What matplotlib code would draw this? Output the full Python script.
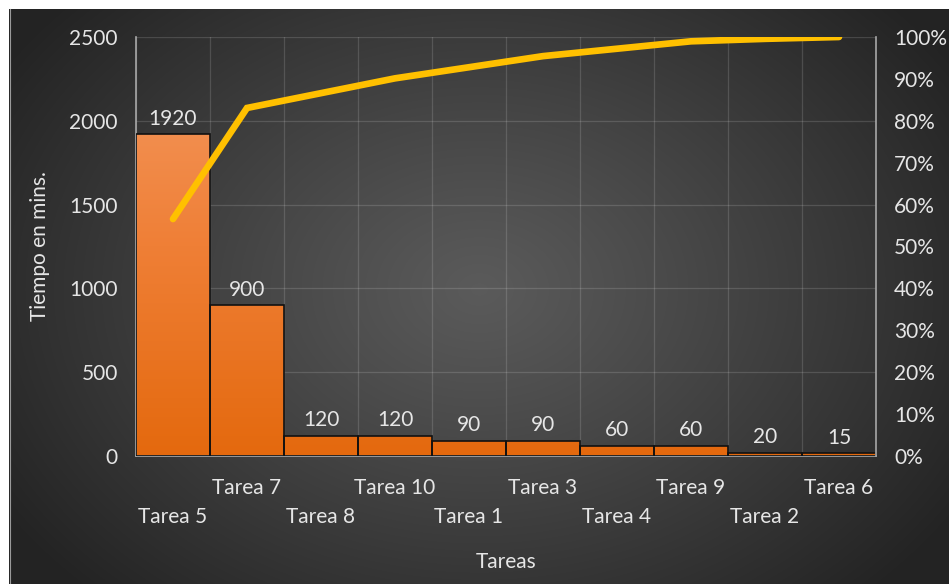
import numpy as np
import matplotlib
matplotlib.use("Agg")
from matplotlib import pyplot as plt
from matplotlib.colors import LinearSegmentedColormap

tareas = ["Tarea 5", "Tarea 7", "Tarea 8", "Tarea 10", "Tarea 1",
          "Tarea 3", "Tarea 4", "Tarea 9", "Tarea 2", "Tarea 6"]
tiempos = [1920, 900, 120, 120, 90, 90, 60, 60, 20, 15]
y_ticks = [0, 500, 1000, 1500, 2000, 2500]
pct_ticks = [0, 10, 20, 30, 40, 50, 60, 70, 80, 90, 100]

TEXT = "#e6e6e6"
plt.rcParams["font.family"] = ["Lato", "DejaVu Sans"]

W, H = 949, 584
fig = plt.figure(figsize=(W / 100, H / 100), dpi=100, facecolor="white")

# radial grey background of the chart area
bg = fig.add_axes([9 / W, 0, 1 - 9 / W, 1 - 9 / H])
bg.set_axis_off()
yy, xx = np.mgrid[0:H - 9, 0:W - 9]
r = np.hypot((xx - 470) / 560.0, (yy - 280) / 420.0)
shade = 0.355 - 0.215 * np.clip(r, 0, 1) ** 1.1
bg.imshow(np.dstack([shade] * 3), aspect="auto", interpolation="bilinear")
fig.add_artist(plt.Line2D([9.5 / W, 9.5 / W], [0, 1 - 9 / H], color="#9a9a9a",
                          linewidth=0.8))

x0, x1, yb, yt = 136, 876, 456, 37
ax = fig.add_axes([x0 / W, (H - yb) / H, (x1 - x0) / W, (yb - yt) / H])
ax.patch.set_alpha(0)

x = np.arange(len(tareas))
bars = ax.bar(x, tiempos, width=1.0, color="none", edgecolor="#111111",
              linewidth=1.2, zorder=3)

# orange gradient fill clipped to each bar
orange = LinearSegmentedColormap.from_list("naranja", ["#e4690e", "#ef7f36", "#f49a62"])
grad = np.linspace(0, 1, 256).reshape(-1, 1)
for b in bars:
    im = ax.imshow(grad, cmap=orange, origin="lower", aspect="auto",
                   extent=[-0.5, len(tareas) - 0.5, 0, 2500], zorder=2)
    im.set_clip_path(b)

ax.set_xlim(-0.5, len(tareas) - 0.5)
ax.set_ylim(0, 2500)
ax.set_yticks(y_ticks)
ax.set_xticks(x - 0.5, minor=False)
ax.set_xticklabels([])
ax.tick_params(axis="both", length=0, labelsize=15, colors=TEXT)
ax.tick_params(axis="y", pad=13)
ax.grid(True, color="white", alpha=0.14, linewidth=0.9, zorder=0)
ax.set_axisbelow(True)
for side in ("top", "right"):
    ax.spines[side].set_visible(False)
for side in ("left", "bottom"):
    ax.spines[side].set_color("#a8a8a8")
    ax.spines[side].set_linewidth(1.2)

for i, v in enumerate(tiempos):
    ax.annotate(str(v), (i, v), xytext=(0, 4), textcoords="offset points",
                ha="center", va="bottom", fontsize=15, color=TEXT, zorder=4)

# staggered category labels
for i, t in enumerate(tareas):
    ypos = -0.076 if i % 2 else -0.146
    ax.text(i, ypos, t, transform=ax.get_xaxis_transform(), ha="center",
            va="center", fontsize=15, color=TEXT)

ax.text(0.5, -0.253, "Tareas", transform=ax.transAxes, ha="center",
        va="center", fontsize=15, color=TEXT)
fig.text(40 / W, 1 - 246 / H, "Tiempo en mins.", rotation=90, ha="center",
         va="center", fontsize=15, color=TEXT)

# cumulative percentage line on the right axis
acumulado = np.cumsum(tiempos) / np.sum(tiempos) * 100
ax2 = ax.twinx()
ax2.plot(x, acumulado, color="#ffc000", linewidth=4.8,
         solid_capstyle="round", solid_joinstyle="miter", zorder=5)
ax2.set_ylim(0, 100)
ax2.set_yticks(pct_ticks)
ax2.set_yticklabels([f"{p}%" for p in pct_ticks])
ax2.tick_params(axis="y", length=0, labelsize=15, colors=TEXT, pad=13)
for side in ("top", "left", "bottom"):
    ax2.spines[side].set_visible(False)
ax2.spines["right"].set_color("#a8a8a8")
ax2.spines["right"].set_linewidth(1.2)

fig.savefig("out.png", dpi=100, facecolor="white")
